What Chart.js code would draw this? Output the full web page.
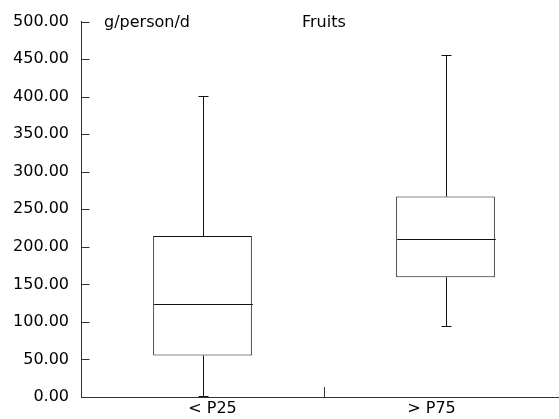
<!DOCTYPE html>
<html>
<head>
<meta charset="utf-8">
<script src="https://cdn.jsdelivr.net/npm/chart.js@4/dist/chart.umd.min.js"></script>
<style>
  html, body { margin: 0; padding: 0; background: #fff; overflow: hidden; }
  #wrap { width: 567px; height: 419px; }
</style>
</head>
<body>
<div id="wrap"><canvas id="boxChart" width="567" height="419"></canvas></div>
<script>
// box plot values (g/person/d)
const categories = ['< P25', '> P75'];
const whiskerLow = [1.5, 94.5];
const q1 = [55.3, 159.6];
const median = [124, 210.5];
const q3 = [214.5, 267];
const whiskerHigh = [401, 455];
const yTicks = [0, 50, 100, 150, 200, 250, 300, 350, 400, 450, 500];

const fontFam = '"DejaVu Sans", Verdana, sans-serif';
const labelShift = [10, -14];

// whiskers, medians, inner tick marks, category labels and the two top labels
const boxExtras = {
  id: 'boxExtras',
  afterDatasetsDraw(chart) {
    const ctx = chart.ctx;
    const x = chart.scales.x;
    const y = chart.scales.y;
    const meta = chart.getDatasetMeta(0);
    ctx.save();
    ctx.strokeStyle = '#111';
    ctx.lineWidth = 1;
    categories.forEach(function(c, i) {
      const bar = meta.data[i];
      const cx = Math.round(x.getPixelForValue(i)) + 0.5;
      const half = bar.width / 2;
      const yLo = y.getPixelForValue(whiskerLow[i]);
      const yHi = y.getPixelForValue(whiskerHigh[i]);
      const yQ1 = y.getPixelForValue(q1[i]);
      const yQ3 = y.getPixelForValue(q3[i]);
      const yMed = Math.round(y.getPixelForValue(median[i])) + 0.5;
      ctx.beginPath();
      ctx.moveTo(cx, yQ3); ctx.lineTo(cx, yHi);
      ctx.moveTo(cx - 5, Math.round(yHi) + 0.5); ctx.lineTo(cx + 5, Math.round(yHi) + 0.5);
      ctx.moveTo(cx, yQ1); ctx.lineTo(cx, yLo);
      ctx.moveTo(cx - 5, Math.round(yLo) + 0.5); ctx.lineTo(cx + 5, Math.round(yLo) + 0.5);
      ctx.moveTo(cx - half, yMed); ctx.lineTo(cx + half, yMed);
      ctx.stroke();
    });
    // inward tick marks
    ctx.strokeStyle = '#333';
    ctx.beginPath();
    const ax = chart.chartArea.left + 0.5;
    yTicks.forEach(function(v) {
      const py = Math.round(y.getPixelForValue(v)) + 0.5;
      ctx.moveTo(ax, py); ctx.lineTo(ax + 8, py);
    });
    const bx = Math.round(x.getPixelForValue(0.5)) + 0.5;
    const by = chart.chartArea.bottom;
    ctx.moveTo(bx, by); ctx.lineTo(bx, by - 10);
    ctx.stroke();
    // category labels
    ctx.fillStyle = '#000';
    ctx.font = '16px ' + fontFam;
    ctx.textBaseline = 'middle';
    ctx.textAlign = 'center';
    categories.forEach(function(c, i) {
      ctx.fillText(c, x.getPixelForValue(i) + labelShift[i], chart.chartArea.bottom + 12);
    });
    // labels at top
    ctx.textAlign = 'left';
    ctx.fillText('g/person/d', chart.chartArea.left + 23, y.getPixelForValue(500) + 1);
    ctx.fillText('Fruits', chart.chartArea.left + 221, y.getPixelForValue(500) + 1);
    ctx.restore();
  }
};

const ctx = document.getElementById('boxChart').getContext('2d');
const boxChart = new Chart(ctx, {
  type: 'bar',
  data: {
    labels: categories,
    datasets: [{
      label: 'Fruits',
      data: categories.map(function(c, i) { return [q1[i], q3[i]]; }),
      backgroundColor: '#ffffff',
      borderColor: '#111',
      borderWidth: 1,
      borderSkipped: false,
      barPercentage: 1,
      categoryPercentage: 0.406
    }]
  },
  options: {
    responsive: false,
    animation: false,
    layout: { padding: { top: 20, right: 0, left: 0, bottom: 0 } },
    plugins: {
      legend: { display: false },
      tooltip: { enabled: false }
    },
    scales: {
      x: {
        offset: true,
        grid: { display: false, drawTicks: false },
        border: { display: true, color: '#333', width: 1 },
        ticks: { display: false },
        afterFit: function(s) { s.height = 22; }
      },
      y: {
        min: 0,
        max: 500,
        afterBuildTicks: function(s) { s.ticks = yTicks.map(function(v) { return { value: v }; }); },
        grid: { display: false, drawTicks: false },
        border: { display: true, color: '#333', width: 1 },
        ticks: {
          color: '#000',
          font: { family: fontFam, size: 16 },
          padding: 12,
          callback: function(v) { return Number(v).toFixed(2); }
        },
        afterFit: function(s) { s.width = 81; }
      }
    }
  },
  plugins: [boxExtras]
});
</script>
</body>
</html>
